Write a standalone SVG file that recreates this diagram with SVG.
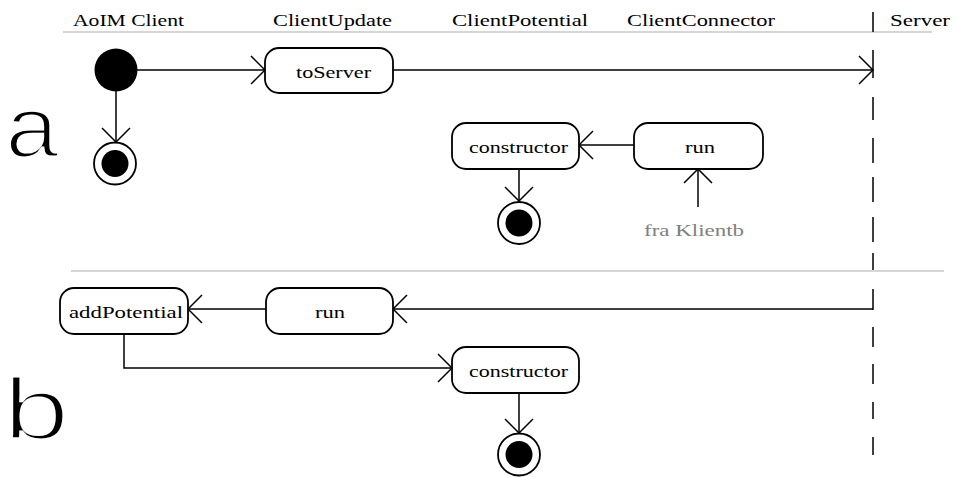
<svg xmlns="http://www.w3.org/2000/svg" width="957" height="477" viewBox="0 0 957 477">
  <defs>
    <marker id="open" viewBox="0 0 16 30" refX="15" refY="15" markerWidth="16" markerHeight="30" markerUnits="userSpaceOnUse" orient="auto">
      <path d="M1,1 L15,15 L1,29" fill="none" stroke="#000" stroke-width="1.5"/>
    </marker>
  </defs>
  <style>
    .lbl { font-family: "Liberation Serif", serif; font-size: 16px; fill: #000; }
    .hdr { font-family: "Liberation Serif", serif; font-size: 16px; fill: #000; }
    .big { font-family: "Liberation Mono", monospace; font-size: 88px; fill: #000; stroke: #fff; stroke-width: 3.2px; }
    .note { font-family: "Liberation Serif", serif; font-size: 16px; fill: #808080; }
    .box { fill: #fff; stroke: #000; stroke-width: 1.8; }
    .sep { stroke: #c8c8c8; stroke-width: 1.5; fill: none; }
    .conn { stroke: #000; stroke-width: 1.5; fill: none; }
    .solid { fill: #000; }
    .ring { fill: #fff; stroke: #000; stroke-width: 1.8; }
  </style>

  <rect width="957" height="477" fill="#fff"/>

  <!-- swimlane headers -->
  <g id="headers">
    <text class="hdr" x="73" y="26" textLength="111" lengthAdjust="spacingAndGlyphs">AoIM Client</text>
    <text class="hdr" x="273" y="26" textLength="119" lengthAdjust="spacingAndGlyphs">ClientUpdate</text>
    <text class="hdr" x="452" y="26" textLength="136" lengthAdjust="spacingAndGlyphs">ClientPotential</text>
    <text class="hdr" x="627" y="26" textLength="148" lengthAdjust="spacingAndGlyphs">ClientConnector</text>
    <text class="hdr" x="890" y="26" textLength="60" lengthAdjust="spacingAndGlyphs">Server</text>
  </g>

  <!-- grey separators -->
  <line class="sep" x1="63" y1="32" x2="932" y2="32"/>
  <line class="sep" x1="71" y1="271" x2="944" y2="271"/>

  <!-- server boundary (dashed) -->
  <path class="conn" d="M873,12 V32 M873,50 V78 M873,97 V120 M873,138 V163 M873,177 V202 M873,217 V242 M873,253 V270 M873,289 V310 M873,327 V347 M873,364 V384 M873,402 V419 M873,437 V455"/>

  <!-- section letters -->
  <text class="big" x="3" y="157" transform="translate(3,157) scale(1.12,1) translate(-3,-157)">a</text>
  <text class="big" x="0" y="439" transform="translate(0,439) scale(1.38,1) translate(0,-439)">b</text>

  <!-- connectors -->
  <g id="connectors">
    <line class="conn" x1="137" y1="70" x2="265" y2="70" marker-end="url(#open)"/>
    <line class="conn" x1="393" y1="70" x2="873" y2="70" marker-end="url(#open)"/>
    <line class="conn" x1="116" y1="91" x2="116" y2="142" marker-end="url(#open)"/>
    <line class="conn" x1="634" y1="145" x2="579" y2="145" marker-end="url(#open)"/>
    <line class="conn" x1="698" y1="207" x2="698" y2="169" marker-end="url(#open)"/>
    <line class="conn" x1="519" y1="169" x2="519" y2="201" marker-end="url(#open)"/>
    <path class="conn" d="M873,309 H393" marker-end="url(#open)"/>
    <line class="conn" x1="266" y1="309" x2="188" y2="309" marker-end="url(#open)"/>
    <path class="conn" d="M124,334 V368 H452" marker-end="url(#open)"/>
    <line class="conn" x1="519" y1="393" x2="519" y2="433" marker-end="url(#open)"/>
  </g>

  <!-- section a -->
  <g id="start-a">
    <circle class="solid" cx="116" cy="70" r="21.5"/>
  </g>
  <g id="end-a1">
    <circle class="ring" cx="115" cy="163.5" r="21"/>
    <circle class="solid" cx="115" cy="163.5" r="13.5"/>
  </g>
  <g id="toServer">
    <rect class="box" x="265" y="48" width="128" height="45" rx="14"/>
    <text class="lbl" x="296" y="78" textLength="75" lengthAdjust="spacingAndGlyphs">toServer</text>
  </g>
  <g id="constructor-a">
    <rect class="box" x="452" y="123" width="127" height="46" rx="14"/>
    <text class="lbl" x="469" y="153" textLength="99" lengthAdjust="spacingAndGlyphs">constructor</text>
  </g>
  <g id="run-a">
    <rect class="box" x="634" y="123" width="129" height="46" rx="14"/>
    <text class="lbl" x="685" y="153" textLength="30" lengthAdjust="spacingAndGlyphs">run</text>
  </g>
  <g id="fra-klientb">
    <text class="note" x="644" y="236" textLength="100" lengthAdjust="spacingAndGlyphs">fra Klientb</text>
  </g>
  <g id="end-a2">
    <circle class="ring" cx="519" cy="223" r="21"/>
    <circle class="solid" cx="519" cy="223" r="13.5"/>
  </g>

  <!-- section b -->
  <g id="addPotential">
    <rect class="box" x="60" y="288" width="128" height="46" rx="14"/>
    <text class="lbl" x="69" y="318" textLength="114" lengthAdjust="spacingAndGlyphs">addPotential</text>
  </g>
  <g id="run-b">
    <rect class="box" x="266" y="288" width="127" height="46" rx="14"/>
    <text class="lbl" x="315" y="318" textLength="30" lengthAdjust="spacingAndGlyphs">run</text>
  </g>
  <g id="constructor-b">
    <rect class="box" x="452" y="347" width="127" height="46" rx="14"/>
    <text class="lbl" x="469" y="377" textLength="99" lengthAdjust="spacingAndGlyphs">constructor</text>
  </g>
  <g id="end-b">
    <circle class="ring" cx="519" cy="454.5" r="21"/>
    <circle class="solid" cx="519" cy="454.5" r="13.5"/>
  </g>
</svg>
